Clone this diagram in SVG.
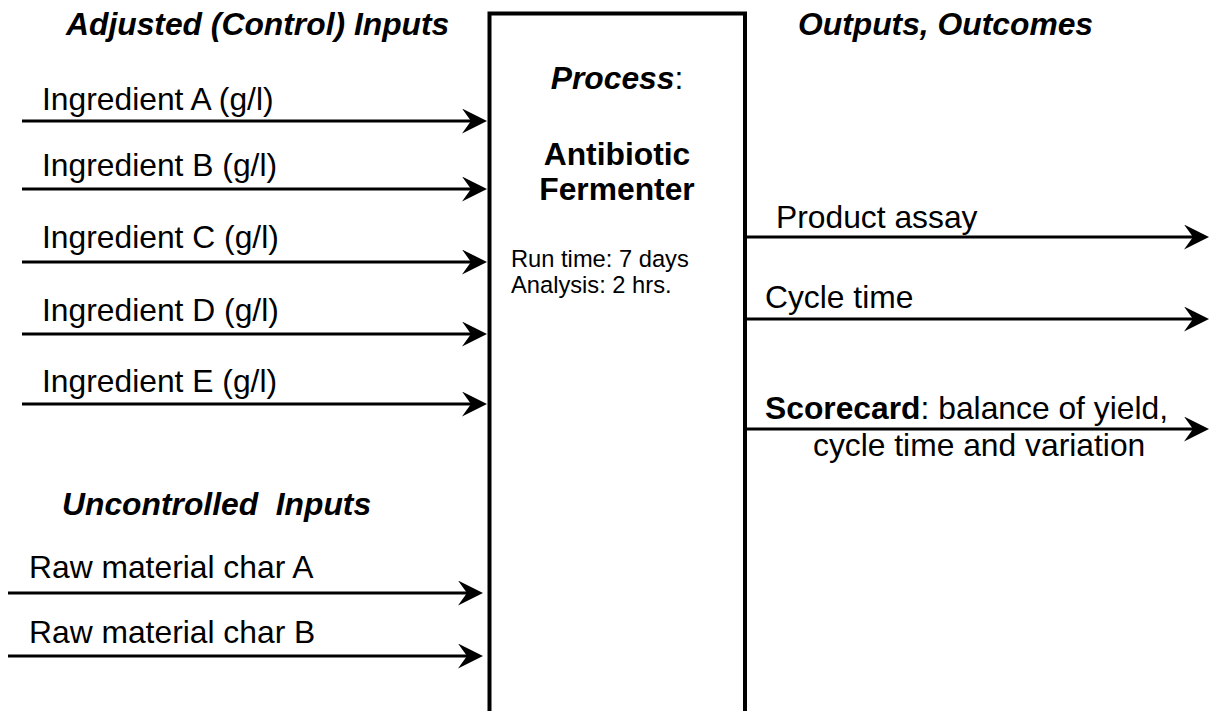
<svg xmlns="http://www.w3.org/2000/svg" width="1211" height="711" viewBox="0 0 1211 711">
<style>
text{font-family:"Liberation Sans",Arial,sans-serif;fill:#000}
.lbl{font-size:31.8px}
.ttl{font-size:31.8px;font-weight:bold;font-style:italic}
.big{font-size:31.8px;font-weight:bold}
.sm{font-size:23.7px}
.wire{stroke:#000;stroke-width:3;fill:none;marker-end:url(#ah)}
</style>
<defs>
<marker id="ah" markerUnits="userSpaceOnUse" markerWidth="26" markerHeight="26" refX="9" refY="12.5" orient="auto" viewBox="0 0 26 26">
<path d="M25,12.5 L0,0 L9,12.5 L0,25 Z" fill="#000"/>
</marker>
</defs>
<rect width="1211" height="711" fill="#fff"/>
<g id="headings">
<text class="ttl" x="66" y="35">Adjusted (Control) Inputs</text>
<text class="ttl" x="798" y="35">Outputs, Outcomes</text>
<text class="ttl" x="62" y="515" xml:space="preserve">Uncontrolled  Inputs</text>
</g>
<g id="process">
<rect x="489.5" y="13.5" width="255.5" height="720" fill="none" stroke="#000" stroke-width="4"/>
<text x="617" y="89" text-anchor="middle" class="lbl"><tspan font-weight="bold" font-style="italic">Process</tspan>:</text>
<text class="big" x="617" y="165" text-anchor="middle">Antibiotic</text>
<text class="big" x="617" y="200" text-anchor="middle">Fermenter</text>
<text class="sm" x="511" y="267">Run time: 7 days</text>
<text class="sm" x="511" y="293">Analysis: 2 hrs.</text>
</g>
<g id="connectors">
<line class="wire" x1="22" y1="121" x2="471" y2="121"/>
<line class="wire" x1="22" y1="189" x2="471" y2="189"/>
<line class="wire" x1="22" y1="262" x2="471" y2="262"/>
<line class="wire" x1="22" y1="334" x2="471" y2="334"/>
<line class="wire" x1="22" y1="404" x2="471" y2="404"/>
<line class="wire" x1="8" y1="593" x2="467" y2="593"/>
<line class="wire" x1="8" y1="656" x2="467" y2="656"/>
<line class="wire" x1="745" y1="237" x2="1193" y2="237"/>
<line class="wire" x1="745" y1="319" x2="1193" y2="319"/>
<line class="wire" x1="745" y1="429" x2="1193" y2="429"/>
</g>
<g id="input-labels">
<text class="lbl" x="42" y="110">Ingredient A (g/l)</text>
<text class="lbl" x="42" y="176">Ingredient B (g/l)</text>
<text class="lbl" x="42" y="248">Ingredient C (g/l)</text>
<text class="lbl" x="42" y="321">Ingredient D (g/l)</text>
<text class="lbl" x="42" y="392">Ingredient E (g/l)</text>
<text class="lbl" x="29" y="578">Raw material char A</text>
<text class="lbl" x="29" y="643">Raw material char B</text>
</g>
<g id="output-labels">
<text class="lbl" x="776" y="228">Product assay</text>
<text class="lbl" x="765" y="308">Cycle time</text>
<text class="lbl" x="765" y="419"><tspan font-weight="bold">Scorecard</tspan>: balance of yield,</text>
<text class="lbl" x="813" y="456">cycle time and variation</text>
</g>
</svg>
